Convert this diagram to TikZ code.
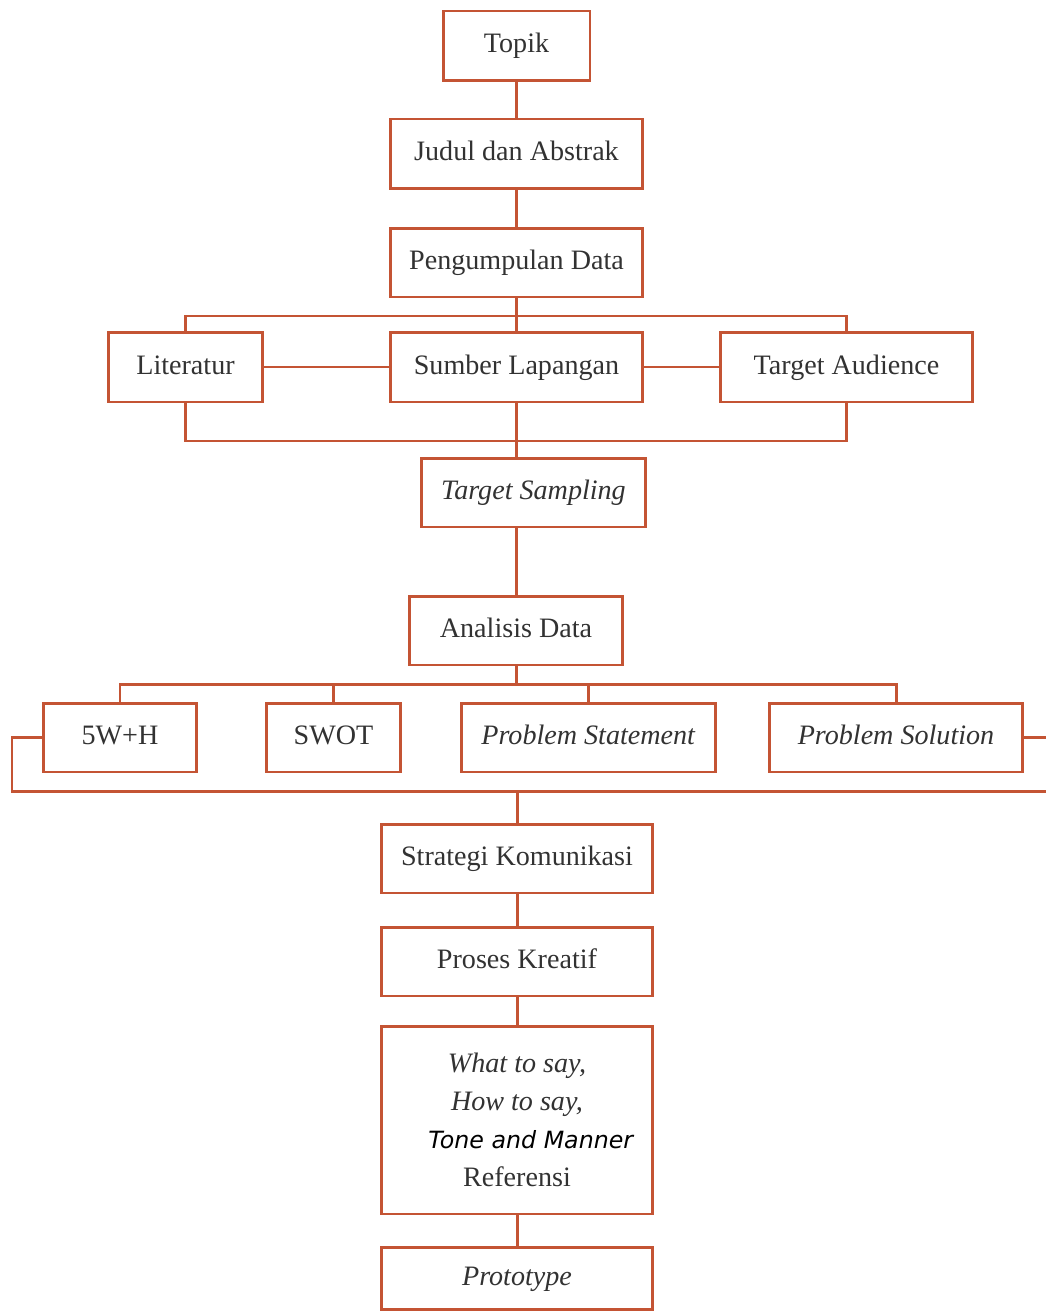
\documentclass[tikz,border=0pt]{standalone}
\usepackage{fontspec}
\setmainfont{Liberation Serif}
\newfontfamily\hurufsans{DejaVu Sans}
\usepackage{xcolor}
\definecolor{garis}{RGB}{196,84,52}
\definecolor{teks}{RGB}{50,50,50}

\begin{document}
\begin{tikzpicture} [x=0.02cm, y=-0.02cm,
		kotak/.style={draw=garis, line width=1.7pt, minimum height=1.4cm, inner sep=2pt, text=teks, font=\fontsize{16}{21.6}\selectfont},
		baris/.style={kotak, text height=0.4cm, text depth=0.12cm},
		hubung/.style={draw=garis, line width=1.7pt}]
				\useasboundingbox (0,0) rectangle (1046,1311);
				\node [baris, minimum width=2.94cm] (topik) at (516.5, 46) {Topik};
				\node [baris, minimum width=5.06cm] (judul) at (516.5, 154) {Judul dan Abstrak};
				\node [baris, minimum width=5.06cm, minimum height=1.38cm] (kumpul) at (516.5, 262.5) {Pengumpulan Data};
				\node [baris, minimum width=3.1cm] (literatur) at (185.5, 367) {Literatur};
				\node [baris, minimum width=5.06cm] (sumber) at (516.5, 367) {Sumber Lapangan};
				\node [baris, minimum width=5.06cm] (audience) at (846.5, 367) {Target Audience};
				\node [baris, minimum width=4.5cm, minimum height=1.38cm] (sampling) at (533.5, 492.5) {\textit{Target Sampling}};
				\node [baris, minimum width=4.28cm, minimum height=1.38cm] (analisis) at (516, 630.5) {Analisis Data};
				\node [baris, minimum width=3.08cm, minimum height=1.38cm] (limaw) at (120, 737.5) {5W+H};
				\node [baris, minimum width=2.7cm, minimum height=1.38cm] (swot) at (333.5, 737.5) {SWOT};
				\node [baris, minimum width=5.1cm, minimum height=1.38cm] (pstatement) at (588.5, 737.5) {\textit{Problem Statement}};
				\node [baris, minimum width=5.08cm, minimum height=1.38cm] (psolution) at (896, 737.5) {\textit{Problem Solution}};
				\node [baris, minimum width=5.44cm, minimum height=1.38cm] (strategi) at (517, 858.5) {Strategi Komunikasi};
				\node [baris, minimum width=5.44cm, minimum height=1.38cm] (kreatif) at (517, 961.5) {Proses Kreatif};
				\node [kotak, minimum width=5.44cm, minimum height=3.76cm, align=center] (katakan) at (517, 1120)
					{\textit{What to say,}\\ \textit{How to say,}\\ \hspace*{0.55cm}{\hurufsans\itshape\color{black}\fontsize{13.5}{21.6}\selectfont Tone and Manner}\\ Referensi};
				\node [baris, minimum width=5.44cm, minimum height=1.24cm] (prototipe) at (517, 1278) {\textit{Prototype}};
				\coordinate (busA) at (516.5, 316);
				\coordinate (busB) at (516.5, 441);
				\coordinate (busC) at (516, 684);
				\coordinate (busD) at (517, 791);
				\coordinate (kiri) at (12, 791);
				\coordinate (kanan) at (1046, 791);
				\draw [hubung] (topik) -- (judul);
				\draw [hubung] (judul) -- (kumpul);
				\draw [hubung] (kumpul) -- (busA) -- (sumber);
				\draw [hubung] (literatur.north) |- (busA) -| (audience.north);
				\draw [hubung] (literatur) -- (sumber);
				\draw [hubung] (sumber) -- (audience);
				\draw [hubung] (literatur.south) |- (busB) -| (audience.south);
				\draw [hubung] (sumber) -- (busB) -- (busB |- sampling.north);
				\draw [hubung] (analisis.north) -- (analisis.north |- sampling.south);
				\draw [hubung] (analisis) -- (busC);
				\draw [hubung] (limaw.north) |- (busC) -| (psolution.north);
				\draw [hubung] (swot.north) -- (swot.north |- busC);
				\draw [hubung] (pstatement.north) -- (pstatement.north |- busC);
				\draw [hubung] (limaw.west) -| (kiri) -- (kanan);
				\draw [hubung] (psolution.east) -- (psolution.east -| kanan);
				\draw [hubung] (busD) -- (strategi);
				\draw [hubung] (strategi) -- (kreatif);
				\draw [hubung] (kreatif) -- (katakan);
				\draw [hubung] (katakan) -- (prototipe);
			\end{tikzpicture}
\end{document}
